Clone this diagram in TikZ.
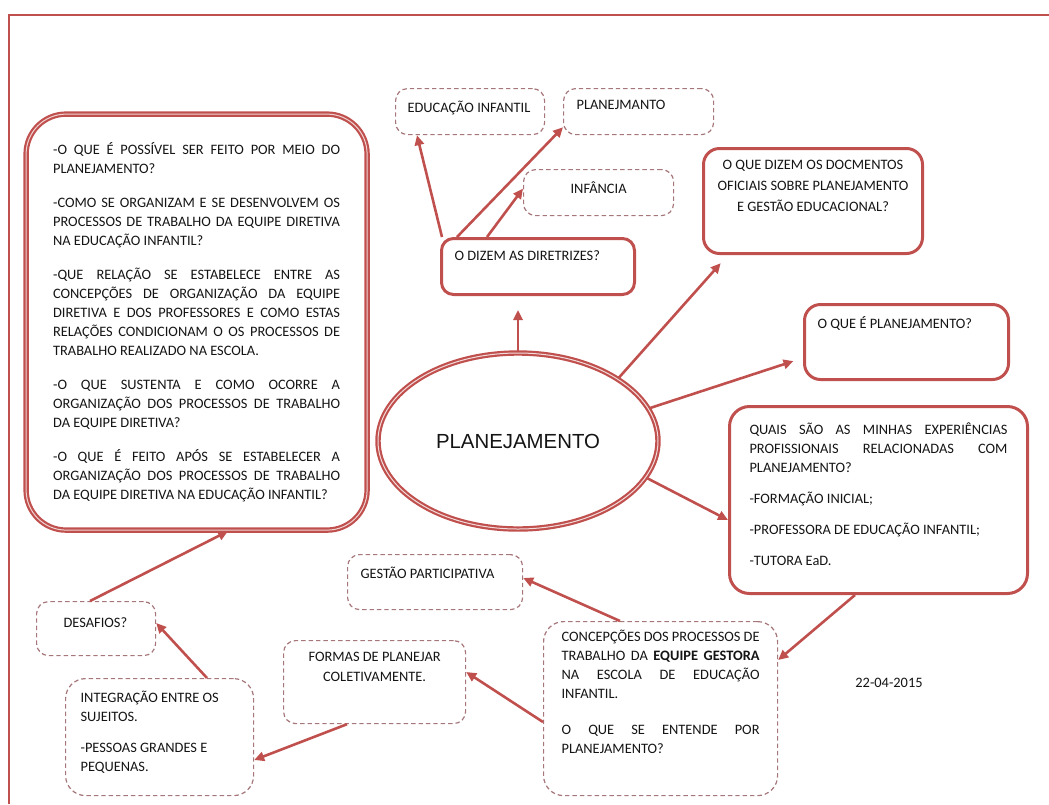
\documentclass[tikz,border=0pt]{standalone}
\usepackage{fontspec}
\setmainfont{Carlito}
\newfontfamily\arialfont{Liberation Sans}
\usetikzlibrary{shapes.geometric,arrows.meta}

\definecolor{brick}{RGB}{192,80,77}
\definecolor{dashgray}{RGB}{165,118,122}
\definecolor{inkgray}{RGB}{20,20,20}

\newcommand{\boxtext}[3]{\parbox[c][#2][t]{#1}{\fontsize{7.2}{9.5}\selectfont\setlength{\parskip}{6.5pt}#3}}

\tikzset{
  solidbox/.style={draw=brick, line width=1.5pt, rounded corners=6pt, inner xsep=6.5pt, inner ysep=6pt, anchor=north west, text=inkgray},
  dashbox/.style={draw=dashgray, line width=0.6pt, dash pattern=on 2.2pt off 1.5pt, rounded corners=6pt, inner xsep=6.5pt, inner ysep=6pt, anchor=north west, text=inkgray},
  arr/.style={draw=brick, line width=1.3pt, -{Triangle[length=5pt,width=4.6pt]}},
}

\begin{document}
\begin{tikzpicture}[x=0.5pt, y=-0.5pt]
\useasboundingbox (0,0) rectangle (1049,804);

% frame
\draw[brick, line width=1.2pt] (9,804) -- (9,15) -- (1049,15);

% questions on the left
\node[solidbox, line width=1.1pt, double=brick!25, double distance=0.5pt, rounded corners=20pt, inner xsep=13.5pt, inner ysep=14pt] (perguntas) at (25,113) {\boxtext{143.5pt}{180pt}{\setlength{\parskip}{7.5pt}%
-O QUE É POSSÍVEL SER FEITO POR MEIO DO\linebreak PLANEJAMENTO?\par
-COMO SE ORGANIZAM E SE DESENVOLVEM OS\linebreak PROCESSOS DE TRABALHO DA EQUIPE DIRETIVA\linebreak NA EDUCAÇÃO INFANTIL?\par
-QUE RELAÇÃO SE ESTABELECE ENTRE AS\linebreak CONCEPÇÕES DE ORGANIZAÇÃO DA EQUIPE\linebreak DIRETIVA E DOS PROFESSORES E COMO ESTAS\linebreak RELAÇÕES CONDICIONAM O OS PROCESSOS DE\linebreak TRABALHO REALIZADO NA ESCOLA.\par
-O QUE SUSTENTA E COMO OCORRE A\linebreak ORGANIZAÇÃO DOS PROCESSOS DE TRABALHO\linebreak DA EQUIPE DIRETIVA?\par
-O QUE É FEITO APÓS SE ESTABELECER A\linebreak ORGANIZAÇÃO DOS PROCESSOS DE TRABALHO\linebreak DA EQUIPE DIRETIVA NA EDUCAÇÃO INFANTIL?}};

% centre
\node[ellipse, draw=brick, line width=1.1pt, double=brick!20, double distance=0.5pt, minimum width=140pt, minimum height=88pt, text=inkgray, font=\arialfont\fontsize{10.2}{12}\selectfont] (plan) at (518,441) {PLANEJAMENTO};

% top
\node[solidbox] (diretrizes) at (440,237) {\boxtext{83.5pt}{16pt}{O DIZEM AS DIRETRIZES?}};
\node[dashbox, inner xsep=6pt] (eduinf) at (395,88) {\boxtext{62.5pt}{11pt}{EDUCAÇÃO~INFANTIL}};
\node[dashbox] (planejm) at (563,88) {\boxtext{62pt}{11pt}{PLANEJMANTO}};
\node[dashbox] (infancia) at (523,169) {\boxtext{62pt}{11pt}{\centering INFÂNCIA}};

% right
\node[solidbox, rounded corners=8pt] (docs) at (702,147) {\boxtext{96.5pt}{40.5pt}{\centering\baselineskip=10.3pt O QUE DIZEM OS DOCMENTOS\\ OFICIAIS SOBRE PLANEJAMENTO\\ E GESTÃO EDUCACIONAL?}};
\node[solidbox, rounded corners=8pt] (planej) at (803,303) {\boxtext{89pt}{25.5pt}{O QUE É PLANEJAMENTO?}};
\node[solidbox, rounded corners=10pt, inner xsep=10pt, inner ysep=8pt] (quais) at (728,405) {\boxtext{129pt}{77.5pt}{\setlength{\parskip}{6pt}%
QUAIS SÃO AS MINHAS EXPERIÊNCIAS\linebreak PROFISSIONAIS RELACIONADAS COM\linebreak PLANEJAMENTO?\par
-FORMAÇÃO INICIAL;\par
-PROFESSORA DE EDUCAÇÃO INFANTIL;\par
-TUTORA EaD.}};

% bottom
\node[dashbox, rounded corners=10pt, inner xsep=9pt, inner ysep=4pt] (concep) at (543,621) {\boxtext{99pt}{79pt}{\setlength{\parskip}{8.5pt}%
CONCEPÇÕES DOS PROCESSOS DE\linebreak TRABALHO DA \textbf{EQUIPE GESTORA}\linebreak NA ESCOLA DE EDUCAÇÃO\linebreak INFANTIL.\par
O QUE SE ENTENDE POR\linebreak PLANEJAMENTO?}};
\node[dashbox] (gestao) at (347,554) {\boxtext{74.5pt}{15.5pt}{GESTÃO PARTICIPATIVA}};
\node[dashbox] (formas) at (283,640) {\boxtext{78pt}{29.5pt}{\centering\baselineskip=10pt FORMAS DE PLANEJAR\\ COLETIVAMENTE.}};
\node[dashbox, rounded corners=10pt, inner xsep=7.5pt] (integra) at (65,678) {\boxtext{79pt}{46.5pt}{\setlength{\parskip}{6pt}%
INTEGRAÇÃO ENTRE OS\\ SUJEITOS.\par
-PESSOAS GRANDES E\\ PEQUENAS.}};
\node[dashbox, inner xsep=13.5pt, inner ysep=8pt] (desafios) at (36,601) {\boxtext{32.5pt}{11pt}{DESAFIOS?}};

\node[text=inkgray, font=\fontsize{7.2}{9}\selectfont] (data) at (889,683) {22-04-2015};

% arrows
\draw[arr, shorten >=7pt] (plan.north) -- (plan.north |- diretrizes.south);
\draw[arr] ([xshift=1pt]diretrizes.north west) -- ([xshift=11pt]eduinf.south west);
\draw[arr] ([xshift=8.5pt]diretrizes.north west) -- ([yshift=4pt]planejm.south west);
\draw[arr] ([xshift=23.5pt]diretrizes.north west) -- ([yshift=2pt]infancia.west);
\draw[arr, shorten >=5.5pt] (plan.32) -- ([xshift=13pt]docs.south west);
\draw[arr, shorten >=5pt] (plan.14) -- ([yshift=-8pt]planej.west);
\draw[arr] (plan.-16) -- ([yshift=-57.5pt]quais.north west);
\draw[arr] ([xshift=63.5pt]quais.south west) -- ([yshift=-19.5pt]concep.north east);
\draw[arr] ([xshift=38.5pt]concep.north west) -- ([yshift=-12pt]gestao.north east);
\draw[arr] ([yshift=-50.5pt]concep.north west) -- ([yshift=-16pt]formas.north east);
\draw[arr] ([xshift=32pt]formas.south west) -- ([yshift=-41pt]integra.north east);
\draw[arr] ([xshift=71pt]integra.north west) -- ([yshift=-11pt]desafios.north east);
\draw[arr] ([xshift=27pt]desafios.north west) -- ([xshift=101.5pt]perguntas.south west);

\end{tikzpicture}
\end{document}
